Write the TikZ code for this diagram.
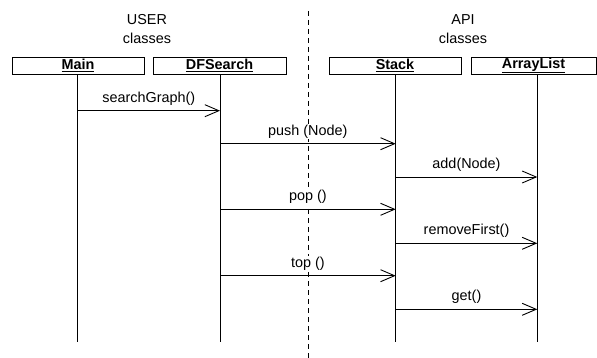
\documentclass[tikz,border=0pt]{standalone}
\usepackage{fontspec}
\setmainfont{Liberation Sans}
\usetikzlibrary{arrows.meta}
\tikzset{
  lbl/.style={font=\fontsize{14.4}{16}\selectfont, inner sep=0pt},
  classbox/.style={draw, line width=0.9pt, minimum height=17pt, inner sep=0pt,
    font=\fontsize{14.4}{16}\selectfont\bfseries},
  lifeline/.style={line width=0.9pt},
  msg/.style={line width=0.9pt, -{Straight Barb[length=14pt,width=12pt,line width=0.9pt]}},
  msglbl/.style={lbl, fill=white, inner sep=1pt, above=4pt},
}
\begin{document}
\begin{tikzpicture}[x=1pt,y=-1pt]
\useasboundingbox (0,0) rectangle (597,358);
\fill[white] (0,0) rectangle (597,358);

% group headings
\node[lbl] (uhead) at (147,20) {USER};
\node[lbl] (ucls) at (147,38) {classes};
\node[lbl] (ahead) at (463,20) {API};
\node[lbl] (acls) at (463,38) {classes};

% separator between user and API classes
\coordinate (septop) at (308.5,11);
\coordinate (sepbot) at (308.5,358);
\draw[line width=0.9pt, dash pattern=on 5pt off 4pt] (septop) -- (sepbot);

% class boxes
\node[classbox, minimum width=132pt] (main) at (78,65.5) {\underline{Main}};
\node[classbox, minimum width=133pt] (dfs) at (219.5,65.5) {\underline{DFSearch}};
\node[classbox, minimum width=132pt] (stack) at (395,65.5) {\underline{Stack}};
\node[classbox, minimum width=125pt] (alist) at (533.5,65.5) {\underline{ArrayList}};

% lifeline ends
\coordinate (mainE) at (77.7,342);
\coordinate (dfsE) at (220,342);
\coordinate (stackE) at (395.7,342);
\coordinate (alistE) at (537.3,342);
\draw[lifeline] (main.south -| mainE) -- (mainE);
\draw[lifeline] (dfs.south -| dfsE) -- (dfsE);
\draw[lifeline] (stack.south -| stackE) -- (stackE);
\draw[lifeline] (alist.south -| alistE) -- (alistE);

% messages
\foreach \y/\from/\to/\txt in {
  110.7/mainE/dfsE/searchGraph(),
  143.7/dfsE/stackE/push (Node),
  177/stackE/alistE/add(Node),
  209.3/dfsE/stackE/pop (),
  243.3/stackE/alistE/removeFirst(),
  275.7/dfsE/stackE/top (),
  309.3/stackE/alistE/get()}{
  \draw[msg] (\from |- 0,\y) -- node[msglbl] {\txt} (\to |- 0,\y);
}
\end{tikzpicture}
\end{document}
